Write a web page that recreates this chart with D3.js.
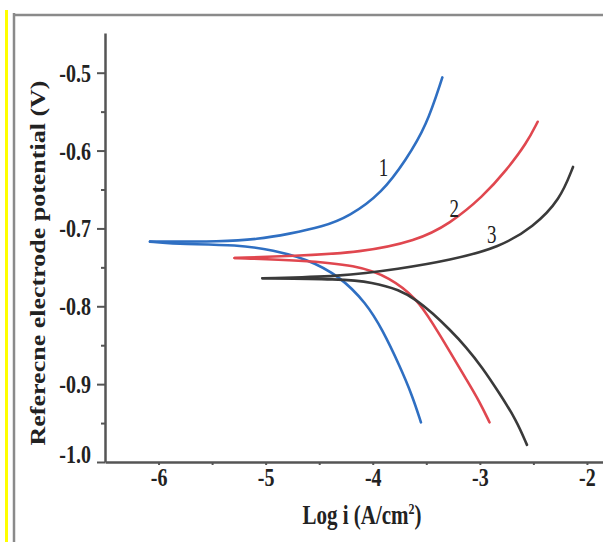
<!DOCTYPE html>
<html>
<head>
<meta charset="utf-8">
<script src="https://cdn.jsdelivr.net/npm/d3@7"></script>
<style>
  html, body { margin: 0; padding: 0; background: #fff; }
  svg { display: block; }
  text { font-family: "Liberation Serif", "Times New Roman", serif; fill: #222; }
</style>
</head>
<body>
<svg id="chart" width="603" height="542"></svg>
<script>
// ---- data (log i in A/cm², E in V) ----
const curveNames = ["1", "2", "3"];
const curveColors = ["#2f6fc2", "#e0474f", "#3a3a3a"];

const blueAnodic = [[-6.08,-0.717],[-5.40,-0.717],[-5.08,-0.714],[-4.78,-0.707],[-4.47,-0.698],[-4.22,-0.685],[-3.91,-0.654],[-3.69,-0.612],[-3.50,-0.569],[-3.35,-0.506]];
const blueCathodic = [[-6.08,-0.717],[-5.87,-0.720],[-5.24,-0.721],[-4.93,-0.728],[-4.62,-0.739],[-4.31,-0.761],[-4.06,-0.796],[-3.91,-0.830],[-3.75,-0.876],[-3.63,-0.915],[-3.55,-0.949]];

const redAnodic = [[-5.29,-0.738],[-4.68,-0.735],[-4.12,-0.731],[-3.59,-0.716],[-3.28,-0.694],[-2.97,-0.659],[-2.75,-0.625],[-2.56,-0.590],[-2.46,-0.563]];
const redCathodic = [[-5.29,-0.738],[-4.68,-0.741],[-4.15,-0.747],[-3.84,-0.763],[-3.59,-0.790],[-3.44,-0.822],[-3.28,-0.858],[-3.13,-0.893],[-3.00,-0.923],[-2.91,-0.949]];

const blackAnodic = [[-5.03,-0.764],[-4.31,-0.762],[-3.75,-0.752],[-3.28,-0.741],[-2.81,-0.724],[-2.50,-0.698],[-2.25,-0.663],[-2.13,-0.621]];
const blackCathodic = [[-5.03,-0.764],[-4.31,-0.765],[-4.00,-0.769],[-3.75,-0.779],[-3.59,-0.792],[-3.44,-0.809],[-3.28,-0.830],[-3.13,-0.852],[-2.98,-0.878],[-2.82,-0.911],[-2.66,-0.946],[-2.56,-0.978]];

const curveLabelPos = [[-3.90,-0.622],[-3.24,-0.674],[-2.89,-0.708]];

const xTickValues = [-6, -5, -4, -3, -2];
const xTickLabels = ["-6", "-5", "-4", "-3", "-2"];
const xMinorTicks = [-5.5, -4.5, -3.5, -2.5];
const yTickValues = [-0.5, -0.6, -0.7, -0.8, -0.9, -1.0];
const yTickLabels = ["-0.5", "-0.6", "-0.7", "-0.8", "-0.9", "-1.0"];
const yMinorTicks = [-0.55, -0.65, -0.75, -0.85, -0.95];

const xTitle = "Log i (A/cm";
const xTitleSup = "2";
const yTitle = "Referecne electrode potential (V)";

// ---- layout ----
const svg = d3.select("#chart");
const SY = 1.3; // vertical stretch of glyphs in the original

const x = d3.scaleLinear().domain([-6.5, -1.85]).range([105, 603]);
const y = d3.scaleLinear().domain([-1.0, -0.449]).range([462, 33]);

// outer decoration: yellow bar and grey frame
svg.append("rect").attr("x", 5).attr("y", 10).attr("width", 3).attr("height", 532).attr("fill", "#ffff00");
svg.append("line").attr("x1", 14).attr("x2", 14).attr("y1", 13).attr("y2", 542)
  .attr("stroke", "#8a8a8a").attr("stroke-width", 2.5);
svg.append("line").attr("x1", 13).attr("x2", 603).attr("y1", 15).attr("y2", 15)
  .attr("stroke", "#8a8a8a").attr("stroke-width", 2.5);

// axes
const axisColor = "#555";
function styleAxis(g) {
  g.select(".domain").attr("stroke", axisColor).attr("stroke-width", 2.5);
  g.selectAll(".tick line").attr("stroke", axisColor).attr("stroke-width", 2);
}

const gxMinor = svg.append("g").attr("transform", `translate(0,${y(-1.0)})`)
  .call(d3.axisBottom(x).tickValues(xMinorTicks).tickSize(3).tickSizeOuter(0).tickFormat(""));
gxMinor.select(".domain").remove();
gxMinor.selectAll(".tick line").attr("stroke", axisColor).attr("stroke-width", 2);

const gx = svg.append("g").attr("transform", `translate(0,${y(-1.0)})`)
  .call(d3.axisBottom(x).tickValues(xTickValues).tickSize(3).tickSizeOuter(0)
    .tickFormat((d, i) => xTickLabels[i]));
styleAxis(gx);
gx.selectAll(".tick text")
  .attr("x", 0).attr("y", 0).attr("dy", null)
  .attr("transform", `translate(0,24) scale(1,${SY})`)
  .style("font-family", '"Liberation Serif", "Times New Roman", serif')
  .style("font-weight", "bold").style("font-size", "20px").attr("fill", "#222");

const gyMinor = svg.append("g").attr("transform", `translate(${x(-6.5)},0)`)
  .call(d3.axisLeft(y).tickValues(yMinorTicks).tickSize(4).tickSizeOuter(0).tickFormat(""));
gyMinor.select(".domain").remove();
gyMinor.selectAll(".tick line").attr("stroke", axisColor).attr("stroke-width", 2);

const gy = svg.append("g").attr("transform", `translate(${x(-6.5)},0)`)
  .call(d3.axisLeft(y).tickValues(yTickValues).tickSize(8).tickSizeOuter(0)
    .tickFormat((d, i) => yTickLabels[i]));
styleAxis(gy);
gy.selectAll(".tick text")
  .attr("x", 0).attr("dy", null)
  .attr("transform", (d) => `translate(-14,${d === -1.0 ? 0 : 8.5}) scale(1,${SY})`)
  .style("font-family", '"Liberation Serif", "Times New Roman", serif')
  .style("font-weight", "bold").style("font-size", "20px").attr("fill", "#222");

// curves
const line = d3.line().x(d => x(d[0])).y(d => y(d[1])).curve(d3.curveBasis);
const branches = [
  [blueAnodic, 0], [blueCathodic, 0],
  [redAnodic, 1], [redCathodic, 1],
  [blackAnodic, 2], [blackCathodic, 2]
];
svg.append("g").selectAll("path").data(branches).join("path")
  .attr("d", d => line(d[0]))
  .attr("fill", "none")
  .attr("stroke", d => curveColors[d[1]])
  .attr("stroke-width", 2.6)
  .attr("stroke-linecap", "round");

// curve labels
svg.append("g").selectAll("text").data(curveNames).join("text")
  .attr("transform", (d, i) => `translate(${x(curveLabelPos[i][0])},${y(curveLabelPos[i][1]) + 8.5}) scale(1,${SY})`)
  .attr("text-anchor", "middle")
  .style("font-size", "19px")
  .text(d => d);

// axis titles
const xt = svg.append("text")
  .attr("transform", `translate(362,524) scale(1,${SY})`)
  .attr("text-anchor", "middle")
  .style("font-size", "21px").style("font-weight", "bold");
xt.append("tspan").text(xTitle);
xt.append("tspan").attr("dy", -8).style("font-size", "12px").text(xTitleSup);
xt.append("tspan").attr("dy", 8).text(")");

svg.append("text")
  .attr("transform", `translate(45,263) scale(1,${SY}) rotate(-90)`)
  .attr("text-anchor", "middle")
  .style("font-size", "20px").style("font-weight", "bold")
  .text(yTitle);
</script>
</body>
</html>
